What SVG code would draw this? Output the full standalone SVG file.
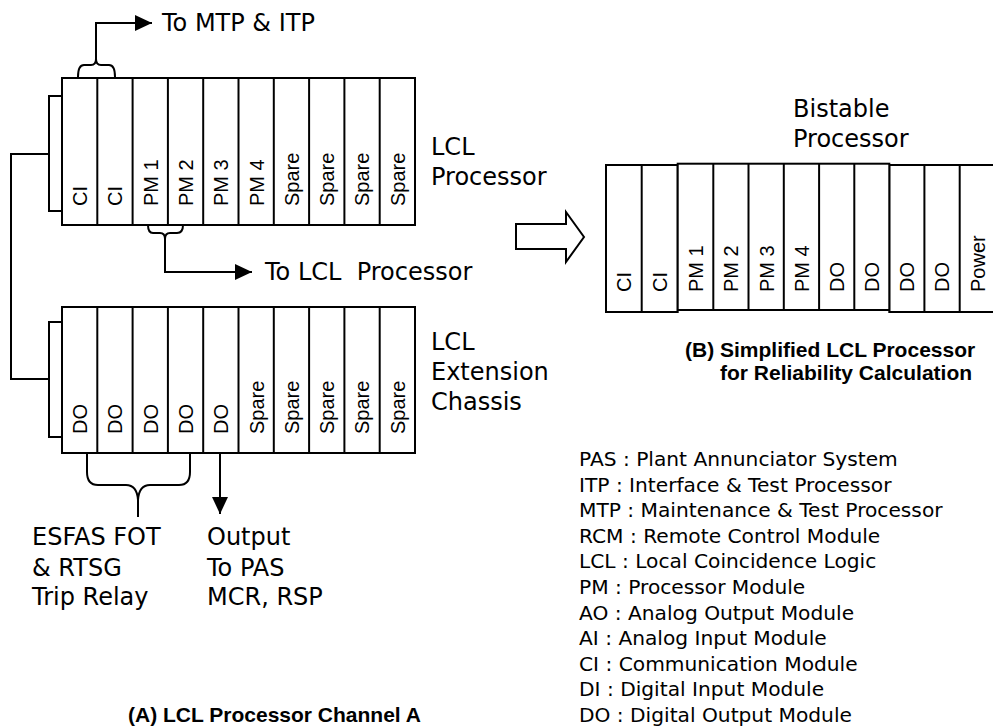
<svg xmlns="http://www.w3.org/2000/svg" width="993" height="727" viewBox="0 0 993 727">
  <style>
    .frame { fill: #ffffff; stroke: #000000; stroke-width: 2; }
    .div { stroke: #000000; stroke-width: 2; }
    .wire { fill: none; stroke: #000000; stroke-width: 2; }
    .slot { font-family: "Liberation Sans", Arial, sans-serif; font-size: 20px; fill: #000000; }
    .label { font-family: "DejaVu Sans", "Liberation Sans", sans-serif; font-size: 24px; fill: #000000; }
    .legend { font-family: "DejaVu Sans", "Liberation Sans", sans-serif; font-size: 20.2px; fill: #000000; }
    .caption { font-family: "Liberation Sans", Arial, sans-serif; font-size: 21px; font-weight: bold; fill: #000000; }
  </style>
  <defs>
    <marker id="head" markerWidth="17" markerHeight="16" refX="17" refY="8" orient="auto" markerUnits="userSpaceOnUse">
      <path d="M0,0 L17,8 L0,16 z" fill="#000000"/>
    </marker>
  </defs>

  <rect width="993" height="727" fill="#ffffff"/>

  <!-- LCL processor chassis (top left) -->
  <g id="lcl-processor">
    <rect class="frame" x="49" y="96" width="13" height="115"/>
    <rect class="frame" x="62" y="78" width="353" height="147"/>
    <g class="div">
      <line x1="97.3" y1="78" x2="97.3" y2="225"/>
      <line x1="132.6" y1="78" x2="132.6" y2="225"/>
      <line x1="167.9" y1="78" x2="167.9" y2="225"/>
      <line x1="203.2" y1="78" x2="203.2" y2="225"/>
      <line x1="238.5" y1="78" x2="238.5" y2="225"/>
      <line x1="273.8" y1="78" x2="273.8" y2="225"/>
      <line x1="309.1" y1="78" x2="309.1" y2="225"/>
      <line x1="344.4" y1="78" x2="344.4" y2="225"/>
      <line x1="379.7" y1="78" x2="379.7" y2="225"/>
    </g>
    <g class="slot">
      <text transform="translate(87,206) rotate(-90)">CI</text>
      <text transform="translate(122.3,206) rotate(-90)">CI</text>
      <text transform="translate(157.6,206) rotate(-90)">PM 1</text>
      <text transform="translate(192.9,206) rotate(-90)">PM 2</text>
      <text transform="translate(228.2,206) rotate(-90)">PM 3</text>
      <text transform="translate(263.5,206) rotate(-90)">PM 4</text>
      <text transform="translate(298.8,206) rotate(-90)">Spare</text>
      <text transform="translate(334.1,206) rotate(-90)">Spare</text>
      <text transform="translate(369.4,206) rotate(-90)">Spare</text>
      <text transform="translate(404.7,206) rotate(-90)">Spare</text>
    </g>
    <text class="label" x="431" y="155">LCL</text>
    <text class="label" x="431" y="185">Processor</text>
  </g>

  <!-- LCL extension chassis (bottom left) -->
  <g id="lcl-extension">
    <rect class="frame" x="49" y="322" width="13" height="115"/>
    <rect class="frame" x="62" y="307" width="353" height="146"/>
    <g class="div">
      <line x1="97.3" y1="307" x2="97.3" y2="453"/>
      <line x1="132.6" y1="307" x2="132.6" y2="453"/>
      <line x1="167.9" y1="307" x2="167.9" y2="453"/>
      <line x1="203.2" y1="307" x2="203.2" y2="453"/>
      <line x1="238.5" y1="307" x2="238.5" y2="453"/>
      <line x1="273.8" y1="307" x2="273.8" y2="453"/>
      <line x1="309.1" y1="307" x2="309.1" y2="453"/>
      <line x1="344.4" y1="307" x2="344.4" y2="453"/>
      <line x1="379.7" y1="307" x2="379.7" y2="453"/>
    </g>
    <g class="slot">
      <text transform="translate(87,434) rotate(-90)">DO</text>
      <text transform="translate(122.3,434) rotate(-90)">DO</text>
      <text transform="translate(157.6,434) rotate(-90)">DO</text>
      <text transform="translate(192.9,434) rotate(-90)">DO</text>
      <text transform="translate(228.2,434) rotate(-90)">DO</text>
      <text transform="translate(263.5,434) rotate(-90)">Spare</text>
      <text transform="translate(298.8,434) rotate(-90)">Spare</text>
      <text transform="translate(334.1,434) rotate(-90)">Spare</text>
      <text transform="translate(369.4,434) rotate(-90)">Spare</text>
      <text transform="translate(404.7,434) rotate(-90)">Spare</text>
    </g>
    <text class="label" x="431" y="350">LCL</text>
    <text class="label" x="431" y="380">Extension</text>
    <text class="label" x="431" y="410">Chassis</text>
  </g>

  <!-- Simplification arrow -->
  <g id="simplify-arrow">
    <path class="frame" d="M516,224 L566,224 L566,212 L584,237 L566,262 L566,249 L516,249 z"/>
  </g>

  <!-- Simplified bistable processor (right) -->
  <g id="bistable-processor">
    <rect class="frame" x="606" y="165" width="71.7" height="147"/>
    <rect class="frame" x="889.3" y="165" width="110" height="147"/>
    <rect class="frame" x="677.7" y="163.7" width="211.6" height="146.3"/>
    <g class="div">
      <line x1="641.7" y1="165" x2="641.7" y2="312"/>
      <line x1="713.3" y1="163.7" x2="713.3" y2="310"/>
      <line x1="748.5" y1="163.7" x2="748.5" y2="310"/>
      <line x1="783.8" y1="163.7" x2="783.8" y2="310"/>
      <line x1="819.1" y1="163.7" x2="819.1" y2="310"/>
      <line x1="854.3" y1="163.7" x2="854.3" y2="310"/>
      <line x1="924.4" y1="165" x2="924.4" y2="312"/>
      <line x1="959.7" y1="165" x2="959.7" y2="312"/>
    </g>
    <g class="slot">
      <text transform="translate(631.1,292) rotate(-90)">CI</text>
      <text transform="translate(667,292) rotate(-90)">CI</text>
      <text transform="translate(702.8,292) rotate(-90)">PM 1</text>
      <text transform="translate(738.2,292) rotate(-90)">PM 2</text>
      <text transform="translate(773.5,292) rotate(-90)">PM 3</text>
      <text transform="translate(808.8,292) rotate(-90)">PM 4</text>
      <text transform="translate(844,292) rotate(-90)">DO</text>
      <text transform="translate(879.1,292) rotate(-90)">DO</text>
      <text transform="translate(914.1,292) rotate(-90)">DO</text>
      <text transform="translate(949.4,292) rotate(-90)">DO</text>
      <text transform="translate(984.6,292) rotate(-90)">Power</text>
    </g>
    <text class="label" x="793" y="117">Bistable</text>
    <text class="label" x="793" y="147">Processor</text>
  </g>

  <!-- Connectors -->
  <g id="connectors">
    <!-- link between the two chassis -->
    <path class="wire" d="M49,154 L11,154 L11,379 L49,379"/>
    <!-- CI pair to MTP & ITP -->
    <path class="wire" d="M78,77 Q78,65 84,65 L91,65 Q96,65 96,59 Q96,65 101,65 L109,65 Q115,65 115,77"/>
    <path class="wire" d="M96,59 L96,23 L152,23" marker-end="url(#head)"/>
    <!-- PM pair to LCL processor -->
    <path class="wire" d="M148,225 Q148,233 153,233 L160,233 Q165,233 165,239 Q165,233 170,233 L177,233 Q183,233 183,225"/>
    <path class="wire" d="M165,239 L165,272 L252,272" marker-end="url(#head)"/>
    <!-- DO group to trip relays -->
    <path class="wire" d="M87,453 L87,472 Q87,485 98,485 L126,485 Q137,485 138,500 Q139,485 150,485 L179,485 Q190,485 190,472 L190,453"/>
    <path class="wire" d="M138,500 L138,517"/>
    <!-- DO output to PAS -->
    <path class="wire" d="M220,453 L220,514" marker-end="url(#head)"/>
  </g>

  <!-- Connector labels -->
  <g id="connector-labels">
    <text class="label" x="162" y="31">To MTP &amp; ITP</text>
    <text class="label" x="265" y="280" xml:space="preserve">To LCL  Processor</text>
    <text class="label" x="32" y="545">ESFAS FOT</text>
    <text class="label" x="32" y="576">&amp; RTSG</text>
    <text class="label" x="32" y="605">Trip Relay</text>
    <text class="label" x="207" y="545">Output</text>
    <text class="label" x="207" y="576">To PAS</text>
    <text class="label" x="207" y="605">MCR, RSP</text>
  </g>

  <!-- Captions -->
  <g id="captions">
    <text class="caption" x="685" y="357">(B) Simplified LCL Processor</text>
    <text class="caption" x="720" y="380">for Reliability Calculation</text>
    <text class="caption" x="128" y="722">(A) LCL Processor Channel A</text>
  </g>

  <!-- Abbreviation legend -->
  <g id="legend" class="legend">
    <text x="579" y="466">PAS : Plant Annunciator System</text>
    <text x="579" y="491.6">ITP : Interface &amp; Test Processor</text>
    <text x="579" y="517.2">MTP : Maintenance &amp; Test Processor</text>
    <text x="579" y="542.8">RCM : Remote Control Module</text>
    <text x="579" y="568.4">LCL : Local Coincidence Logic</text>
    <text x="579" y="594">PM : Processor Module</text>
    <text x="579" y="619.6">AO : Analog Output Module</text>
    <text x="579" y="645.2">AI : Analog Input Module</text>
    <text x="579" y="670.8">CI : Communication Module</text>
    <text x="579" y="696.4">DI : Digital Input Module</text>
    <text x="579" y="722">DO : Digital Output Module</text>
  </g>
</svg>
